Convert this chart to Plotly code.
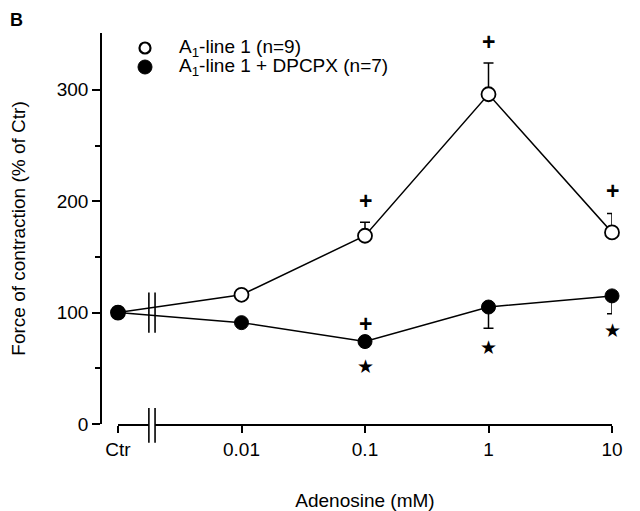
import plotly.graph_objects as go

categories = ["Ctr", "0.01", "0.1", "1", "10"]
x_pos = [-3, -2, -1, 0, 1]  # log10 positions (Ctr placed one decade below 0.01)

open_vals = [100, 116, 169, 296, 172]
open_err_up = [0, 0, 12, 28, 17]
filled_vals = [100, 91, 74, 105, 115]
filled_err_down = [0, 0, 0, 19, 16]

plus_open_idx = [2, 3, 4]
plus_open_y = [200, 343, 209]
plus_filled_idx = [2]
plus_filled_y = [90]
star_idx = [2, 3, 4]
star_y = [52, 69, 84]

series_names = ["A<sub>1</sub>-line 1 (n=9)", "A<sub>1</sub>-line 1 + DPCPX (n=7)"]

FONT = "Liberation Sans, Arial, sans-serif"

# figure-pixel helpers (page body adds an 8px offset)
PL, PT, PW, PH = 93, 25, 511, 391
def px(fx):
    return (fx - PL) / PW
def py(fy):
    return (PT + PH - fy) / PH

fig = go.Figure()
fig.add_trace(go.Scatter(
    x=x_pos, y=open_vals, mode="lines+markers", showlegend=False,
    line=dict(color="black", width=1.5),
    marker=dict(symbol="circle", size=14, color="white", line=dict(color="black", width=1.8)),
    error_y=dict(type="data", symmetric=False, array=open_err_up, arrayminus=[0]*5,
                 color="black", thickness=1.5, width=5),
    cliponaxis=False,
))
fig.add_trace(go.Scatter(
    x=x_pos, y=filled_vals, mode="lines+markers", showlegend=False,
    line=dict(color="black", width=1.5),
    marker=dict(symbol="circle", size=14, color="black", line=dict(color="black", width=1)),
    error_y=dict(type="data", symmetric=False, array=[0]*5, arrayminus=filled_err_down,
                 color="black", thickness=1.5, width=5),
    cliponaxis=False,
))

ann = []
for i, y in zip(plus_open_idx, plus_open_y):
    ann.append(dict(x=x_pos[i], y=y, text="<b>+</b>", showarrow=False, font=dict(size=23, family=FONT, color="black")))
for i, y in zip(plus_filled_idx, plus_filled_y):
    ann.append(dict(x=x_pos[i], y=y, text="<b>+</b>", showarrow=False, font=dict(size=23, family=FONT, color="black")))
for i, y in zip(star_idx, star_y):
    ann.append(dict(x=x_pos[i], y=y, text="★", showarrow=False, font=dict(size=19, family="DejaVu Sans", color="black")))
ann.append(dict(xref="paper", yref="paper", x=px(0), y=py(0), xanchor="left", yanchor="top",
                text="<b>B</b>", showarrow=False, font=dict(size=18, family=FONT, color="black")))

# manual legend
leg_rows = [40, 59]
for name, fy in zip(series_names, leg_rows):
    ann.append(dict(xref="paper", yref="paper", x=px(169), y=py(fy), xanchor="left", yanchor="middle",
                    text=name, showarrow=False, font=dict(size=19, family=FONT, color="black")))

brk = [-2.75, -2.70]
shapes = []
shapes.append(dict(type="rect", xref="x", yref="paper", x0=brk[0], x1=brk[1], y0=-0.01, y1=0.01,
                   fillcolor="white", line=dict(width=0), layer="above"))
for bx in brk:
    shapes.append(dict(type="line", xref="x", yref="paper", x0=bx, x1=bx, y0=-0.048, y1=0.041,
                       line=dict(color="black", width=1.6), layer="above"))
    shapes.append(dict(type="line", xref="x", yref="y", x0=bx, x1=bx, y0=82, y1=118,
                       line=dict(color="black", width=1.6), layer="above"))
# legend symbols
shapes.append(dict(type="circle", xref="paper", yref="paper", xsizemode="pixel", ysizemode="pixel",
                   xanchor=px(137), yanchor=py(leg_rows[0]), x0=-5.5, x1=5.5, y0=-5.5, y1=5.5,
                   fillcolor="white", line=dict(color="black", width=2.2), layer="above"))
shapes.append(dict(type="circle", xref="paper", yref="paper", xsizemode="pixel", ysizemode="pixel",
                   xanchor=px(137), yanchor=py(leg_rows[1]), x0=-7, x1=7, y0=-7, y1=7,
                   fillcolor="black", line=dict(color="black", width=1), layer="above"))

fig.update_layout(
    width=632, height=503,
    margin=dict(l=PL, r=632 - PL - PW, t=PT, b=503 - PT - PH, autoexpand=False),
    paper_bgcolor="white", plot_bgcolor="white",
    font=dict(family=FONT, size=19, color="black"),
    showlegend=False,
    xaxis=dict(domain=[17/511, 1], range=[-3, 1], showgrid=False, zeroline=False, automargin=False,
               showline=True, linecolor="black", linewidth=1.6,
               ticks="outside", ticklen=7, tickwidth=1.6, tickcolor="black",
               tickvals=x_pos, ticktext=categories, tickfont=dict(size=19),
               title=dict(text="Adenosine (mM)", font=dict(size=19), standoff=36)),
    yaxis=dict(anchor="free", position=0, range=[0, 351], showgrid=False, zeroline=False, automargin=False,
               showline=True, linecolor="black", linewidth=1.6,
               ticks="outside", ticklen=8, tickwidth=1.6, tickcolor="black",
               tickvals=[0, 100, 200, 300], tickfont=dict(size=19),
               minor=dict(tickvals=[50, 150, 250], ticks="outside", ticklen=5, tickwidth=1.6, tickcolor="black"),
               title=dict(text="Force of contraction (% of Ctr)", font=dict(size=19), standoff=30)),
    annotations=ann,
    shapes=shapes,
)

fig.write_html("out.html")
